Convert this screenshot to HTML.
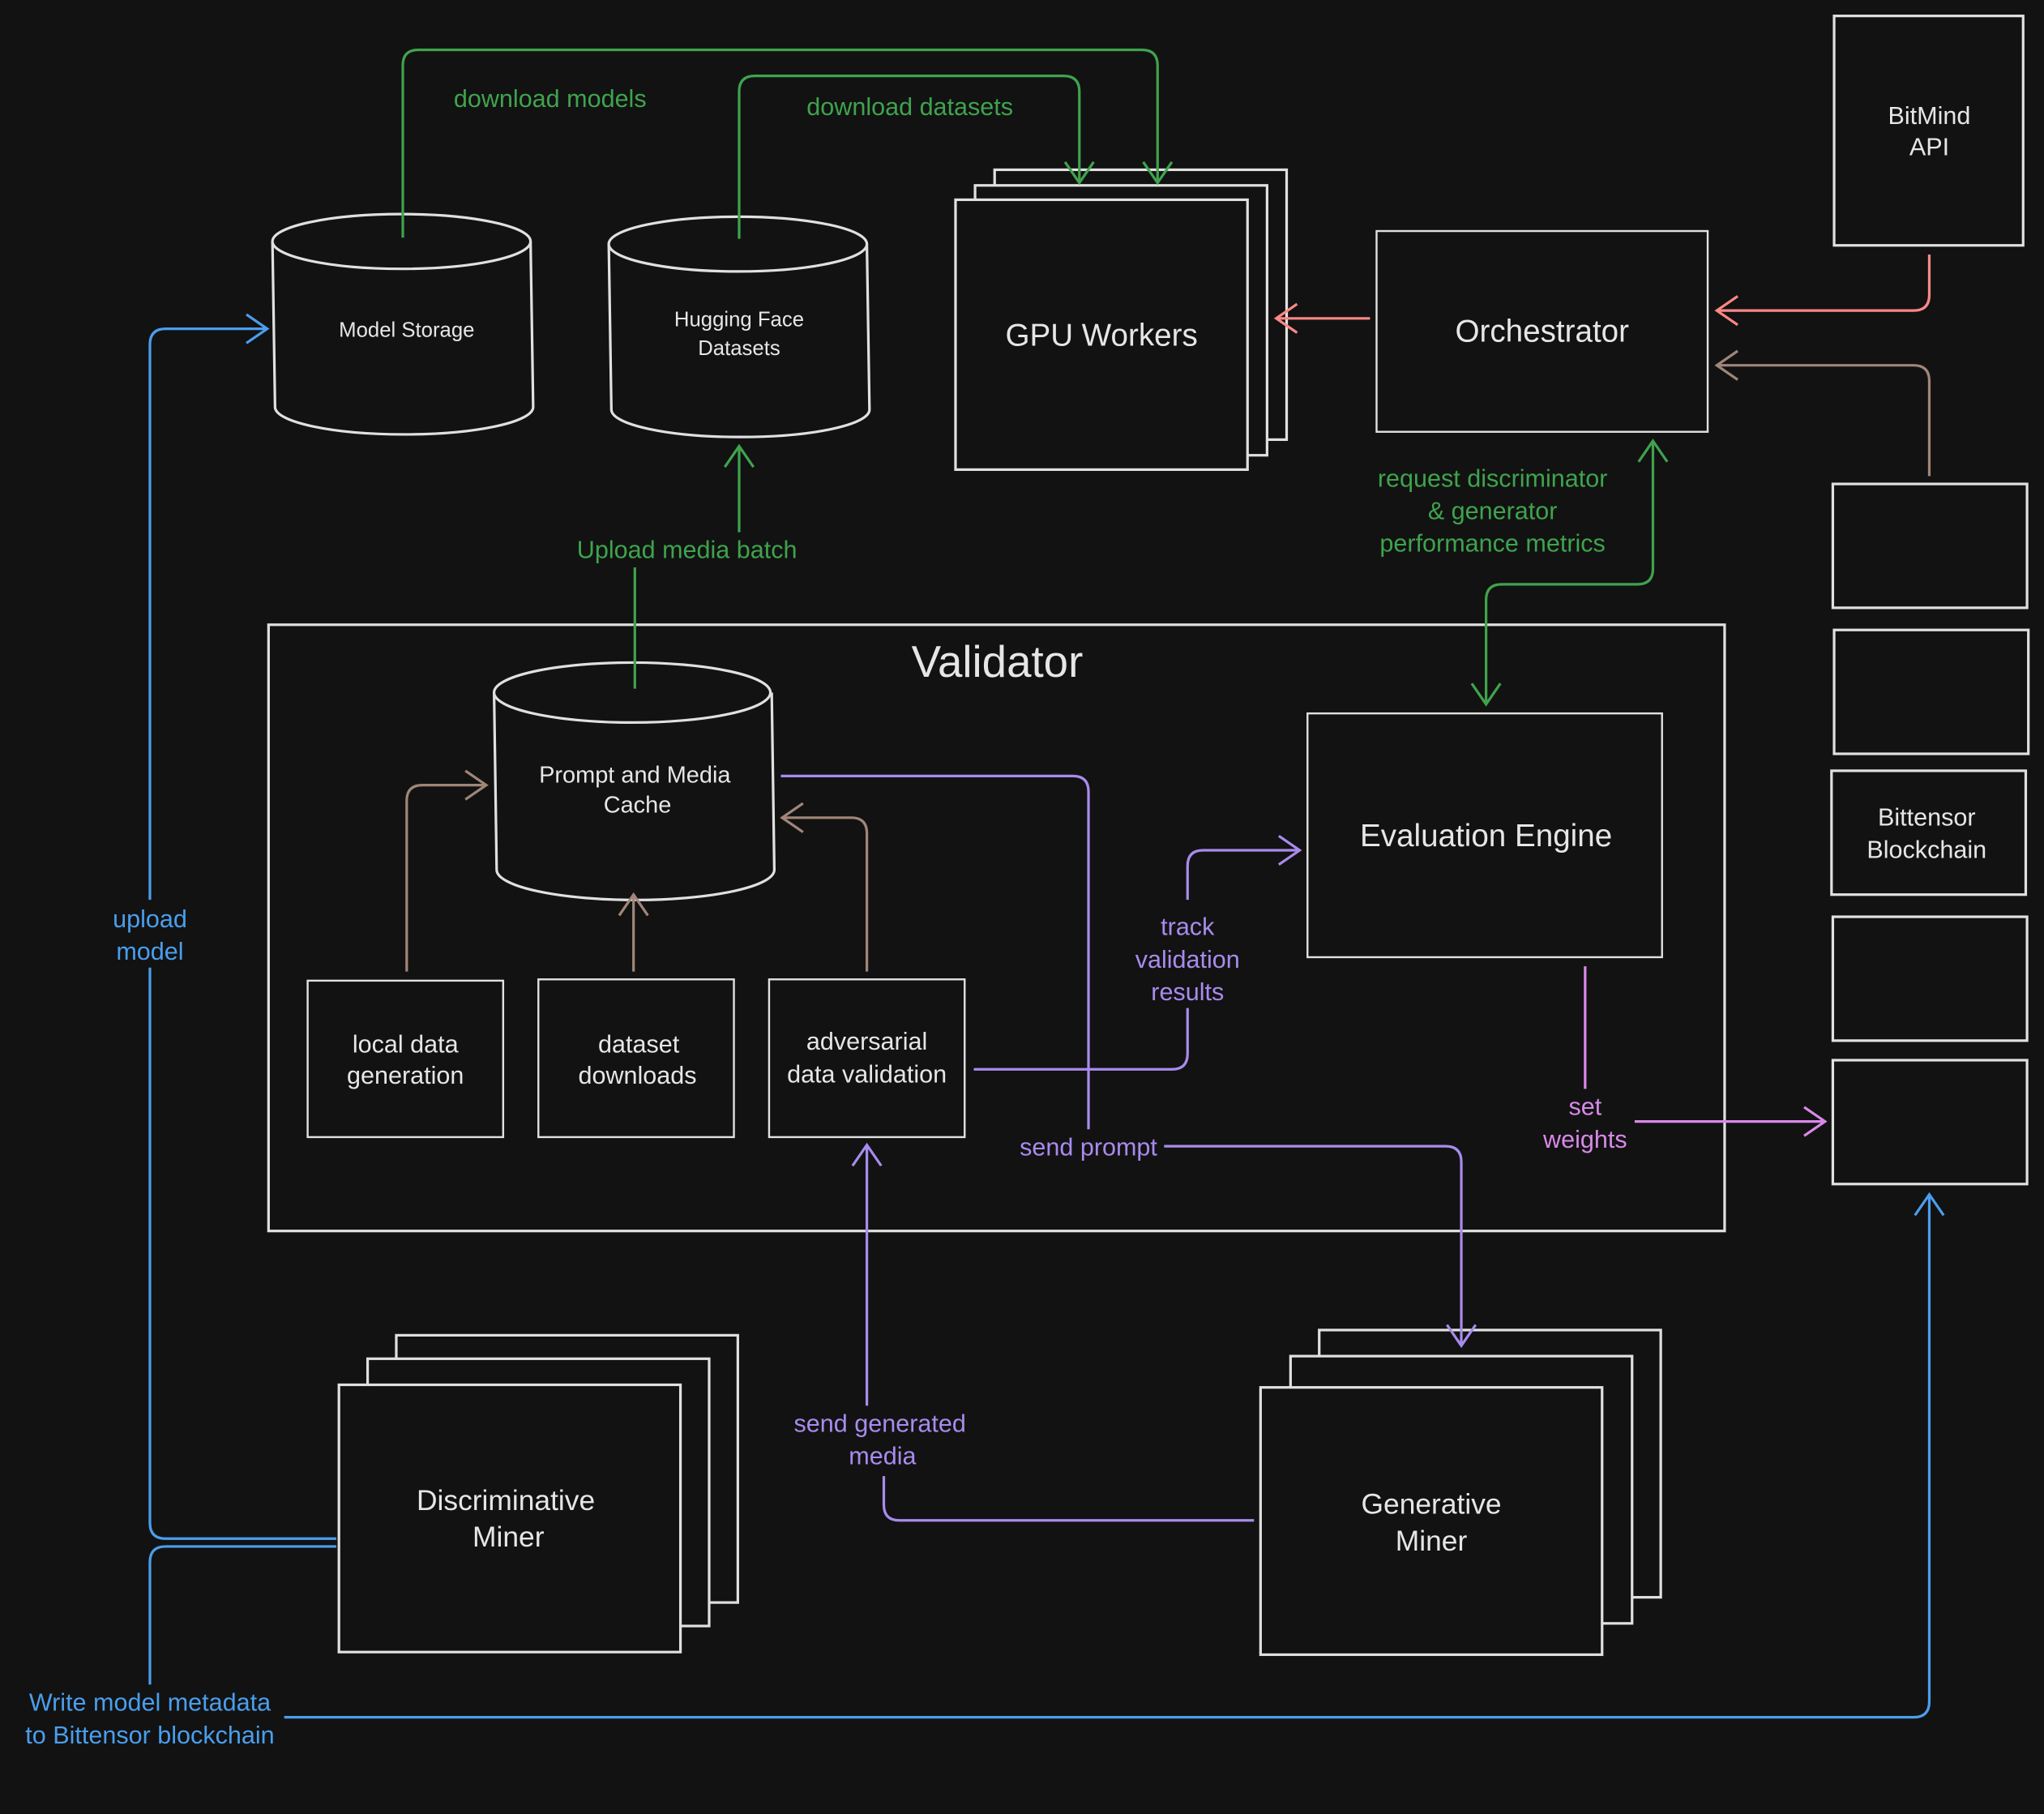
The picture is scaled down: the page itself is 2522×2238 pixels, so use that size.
<!DOCTYPE html>
<html><head><meta charset="utf-8"><style>
html,body{margin:0;padding:0;background:#121212;}
svg{display:block}
text{font-family:"Liberation Sans",sans-serif;}
</style></head><body>
<svg width="2522" height="2238" viewBox="0 0 1568 1391" xmlns="http://www.w3.org/2000/svg">
<defs>
<marker id="mg" markerUnits="userSpaceOnUse" markerWidth="40" markerHeight="40" viewBox="-20 -20 40 40" orient="auto-start-reverse"><path d="M-16,-11 L0,0 L-16,11" fill="none" stroke="#3fa34d" stroke-width="2"/></marker>
<marker id="mr" markerUnits="userSpaceOnUse" markerWidth="40" markerHeight="40" viewBox="-20 -20 40 40" orient="auto"><path d="M-16,-11 L0,0 L-16,11" fill="none" stroke="#ff8787" stroke-width="2"/></marker>
<marker id="mb" markerUnits="userSpaceOnUse" markerWidth="40" markerHeight="40" viewBox="-20 -20 40 40" orient="auto"><path d="M-16,-11 L0,0 L-16,11" fill="none" stroke="#a08678" stroke-width="2"/></marker>
<marker id="mp" markerUnits="userSpaceOnUse" markerWidth="40" markerHeight="40" viewBox="-20 -20 40 40" orient="auto"><path d="M-16,-11 L0,0 L-16,11" fill="none" stroke="#a88bed" stroke-width="2"/></marker>
<marker id="mk" markerUnits="userSpaceOnUse" markerWidth="40" markerHeight="40" viewBox="-20 -20 40 40" orient="auto"><path d="M-16,-11 L0,0 L-16,11" fill="none" stroke="#d889e8" stroke-width="2"/></marker>
<marker id="ml" markerUnits="userSpaceOnUse" markerWidth="40" markerHeight="40" viewBox="-20 -20 40 40" orient="auto"><path d="M-16,-11 L0,0 L-16,11" fill="none" stroke="#4a9eed" stroke-width="2"/></marker>
</defs>
<rect width="1568" height="1391" fill="#121212"/>
<g fill="#121212" stroke="#e0e0e0" stroke-width="2">
<path d="M209,185 L211,312 A99,21 0 0 0 409,312 L407,185"/>
<ellipse cx="308" cy="185" rx="99" ry="21"/>
<path d="M467,187 L469,314 A99,21 0 0 0 667,314 L665,187"/>
<ellipse cx="566" cy="187" rx="99" ry="21"/>
<rect x="763" y="130" width="224" height="207"/>
<rect x="748" y="142" width="224" height="207"/>
<rect x="733" y="153" width="224" height="207"/>
<rect x="1056" y="177" width="254" height="154" stroke-width="1.5"/>
<rect x="1407" y="12" width="145" height="176"/>
<rect x="1406" y="371" width="149" height="95"/>
<rect x="1407" y="483" width="149" height="95"/>
<rect x="1405" y="591" width="149" height="95"/>
<rect x="1406" y="703" width="149" height="95"/>
<rect x="1406" y="813" width="149" height="95"/>
<rect x="206" y="479" width="1117" height="465"/>
<path d="M379,531 L381,667 A106,23 0 0 0 594,667 L592,531"/>
<ellipse cx="485" cy="531" rx="106" ry="23"/>
<rect x="236" y="752" width="150" height="120" stroke-width="1.5"/>
<rect x="413" y="751" width="150" height="121" stroke-width="1.5"/>
<rect x="590" y="751" width="150" height="121" stroke-width="1.5"/>
<rect x="1003" y="547" width="272" height="187" stroke-width="1.5"/>
<rect x="304" y="1024" width="262" height="205"/>
<rect x="282" y="1042" width="262" height="205"/>
<rect x="260" y="1062" width="262" height="205"/>
<rect x="1012" y="1020" width="262" height="205"/>
<rect x="990" y="1040" width="262" height="205"/>
<rect x="967" y="1064" width="262" height="205"/>
</g>
<g fill="none" stroke-width="2">
<g stroke="#3fa34d">
<path d="M309,182 V50 Q309,38 321,38 H876 Q888,38 888,50 V140" marker-end="url(#mg)"/>
<path d="M567,183 V70 Q567,58 579,58 H816 Q828,58 828,70 V140" marker-end="url(#mg)"/>
<path d="M487,528 V435"/>
<path d="M567,408 V342" marker-end="url(#mg)"/>
<path d="M1268,338 V436 Q1268,448 1256,448 H1152 Q1140,448 1140,460 V540" marker-start="url(#mg)" marker-end="url(#mg)"/>
</g>
<g stroke="#ff8787">
<path d="M1051,244 H979" marker-end="url(#mr)"/>
<path d="M1480,195 V226 Q1480,238 1468,238 H1317" marker-end="url(#mr)"/>
</g>
<g stroke="#a08678">
<path d="M1480,365 V292 Q1480,280 1468,280 H1317" marker-end="url(#mb)"/>
<path d="M312,745 V614 Q312,602 324,602 H373" marker-end="url(#mb)"/>
<path d="M486,745 V686" marker-end="url(#mb)"/>
<path d="M665,745 V639 Q665,627 653,627 H600" marker-end="url(#mb)"/>
</g>
<g stroke="#a88bed">
<path d="M599,595 H823 Q835,595 835,607 V866"/>
<path d="M893,879 H1109 Q1121,879 1121,891 V1032" marker-end="url(#mp)"/>
<path d="M747,820 H899 Q911,820 911,808 V773"/>
<path d="M911,690 V664 Q911,652 923,652 H997" marker-end="url(#mp)"/>
<path d="M962,1166 H690 Q678,1166 678,1154 V1132"/>
<path d="M665,1078 V878" marker-end="url(#mp)"/>
</g>
<g stroke="#d889e8">
<path d="M1216,741 V835"/>
<path d="M1254,860 H1400" marker-end="url(#mk)"/>
</g>
<g stroke="#4a9eed">
<path d="M258,1180 H127 Q115,1180 115,1168 V742"/>
<path d="M115,690 V264 Q115,252 127,252 H205" marker-end="url(#ml)"/>
<path d="M258,1186 H127 Q115,1186 115,1198 V1292"/>
<path d="M218,1317 H1468 Q1480,1317 1480,1305 V916" marker-end="url(#ml)"/>
</g>
</g>
<g fill="#e6e6e6" text-anchor="middle">
<text x="312" y="258" font-size="16">Model Storage</text>
<text x="567" y="250" font-size="16">Hugging Face</text>
<text x="567" y="272" font-size="16">Datasets</text>
<text x="845" y="265" font-size="24">GPU Workers</text>
<text x="1183" y="262" font-size="24">Orchestrator</text>
<text x="1480" y="95" font-size="19">BitMind</text>
<text x="1480" y="119" font-size="19">API</text>
<text x="1478" y="633" font-size="19">Bittensor</text>
<text x="1478" y="658" font-size="19">Blockchain</text>
<text x="765" y="519" font-size="34">Validator</text>
<text x="487" y="600" font-size="18">Prompt and Media</text>
<text x="489" y="623" font-size="18">Cache</text>
<text x="311" y="807" font-size="19">local data</text>
<text x="311" y="831" font-size="19">generation</text>
<text x="490" y="807" font-size="19">dataset</text>
<text x="489" y="831" font-size="19">downloads</text>
<text x="665" y="805" font-size="19">adversarial</text>
<text x="665" y="830" font-size="19">data validation</text>
<text x="1140" y="649" font-size="24">Evaluation Engine</text>
<text x="388" y="1158" font-size="22">Discriminative</text>
<text x="390" y="1186" font-size="22">Miner</text>
<text x="1098" y="1161" font-size="22">Generative</text>
<text x="1098" y="1189" font-size="22">Miner</text>
</g>
<g text-anchor="middle" font-size="19">
<g fill="#3fa34d">
<text x="422" y="82">download models</text>
<text x="698" y="88">download datasets</text>
<text x="527" y="428">Upload media batch</text>
<text x="1145" y="373">request discriminator</text>
<text x="1145" y="398">&amp; generator</text>
<text x="1145" y="423">performance metrics</text>
</g>
<g fill="#a88bed">
<text x="835" y="886">send prompt</text>
<text x="911" y="717">track</text>
<text x="911" y="742">validation</text>
<text x="911" y="767">results</text>
<text x="675" y="1098">send generated</text>
<text x="677" y="1123">media</text>
</g>
<g fill="#d889e8">
<text x="1216" y="855">set</text>
<text x="1216" y="880">weights</text>
</g>
<g fill="#4a9eed">
<text x="115" y="711">upload</text>
<text x="115" y="736">model</text>
<text x="115" y="1312">Write model metadata</text>
<text x="115" y="1337">to Bittensor blockchain</text>
</g>
</g>
</svg>
</body></html>
